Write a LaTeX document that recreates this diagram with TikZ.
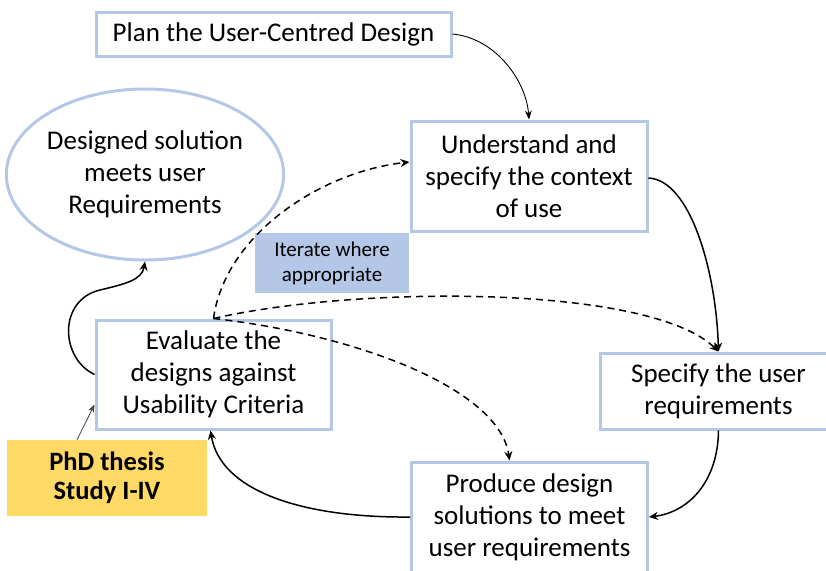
\documentclass[tikz,border=0pt]{standalone}
\usepackage{fontspec}
\setmainfont{Carlito}
\usetikzlibrary{arrows.meta,shapes.geometric}
\definecolor{boxblue}{RGB}{180,199,231}
\definecolor{notegold}{RGB}{255,217,102}
\tikzset{
  stagebox/.style={draw=boxblue, line width=3pt, fill=white, align=center,
    inner sep=0pt, font=\fontsize{27}{32}\selectfont},
  goal/.style={ellipse, draw=boxblue, line width=3pt, align=center,
    inner sep=0pt, font=\fontsize{27}{32}\selectfont},
  note/.style={fill=boxblue, align=center, inner sep=0pt,
    font=\fontsize{21}{25}\selectfont},
  thesis/.style={fill=notegold, align=center, inner sep=0pt,
    font=\fontsize{26.5}{29}\selectfont\bfseries},
  flow/.style={line width=1.5pt, -{Stealth[length=9pt,width=8pt]}},
  thinflow/.style={line width=0.9pt, -{Stealth[length=9pt,width=7pt]}},
  iterflow/.style={line width=1.5pt, dash pattern=on 7pt off 5pt,
    -{Stealth[length=9pt,width=8pt]}},
}
\begin{document}
\begin{tikzpicture}[x=1pt,y=-1pt]
\useasboundingbox (0,0) rectangle (826,570);
\clip (0,0) rectangle (826,570);

% stages of the cycle
\node[stagebox, minimum width=355pt, minimum height=44pt] (plan) at (273.5,34)
  {Plan the User-Centred Design};
\node[stagebox, minimum width=236pt, minimum height=110pt] (und) at (529,176)
  {Understand and\\specify the context\\of use};
\node[stagebox, minimum width=237pt, minimum height=76pt] (spec) at (718.5,391)
  {Specify the user\\requirements};
\node[stagebox, minimum width=236pt, minimum height=110pt] (prod) at (529.5,517)
  {Produce design\\solutions to meet\\user requirements};
\node[stagebox, minimum width=235pt, minimum height=109pt] (eval) at (213.5,374.5)
  {Evaluate the\\designs against\\Usability Criteria};
\node[goal, minimum width=273pt, minimum height=171pt] (goal) at (145,174.5)
  {Designed solution\\meets user\\Requirements};
\node[note, minimum width=154pt, minimum height=60pt] (iter) at (332,263)
  {Iterate where\\appropriate};
\node[thesis, minimum width=200pt, minimum height=76pt] (phd) at (107,478)
  {PhD thesis\\Study I-IV};

% main cycle
\draw[thinflow] (plan.east) .. controls (495,38) and (526,80) .. (und.north);
\draw[flow] ([yshift=-2pt]und.east) .. controls (690,180) and (716,270) .. (spec.north);
\draw[flow] (spec.south) .. controls (718,480) and (690,512) .. (prod.east);
\draw[flow] (prod.west) .. controls (300,518) and (220,490) .. ([xshift=-3pt]eval.south);
\draw[flow] (eval.west) .. controls (60,358) and (58,300) .. (100,290)
  .. controls (125,284) and (142,280) .. (goal.south);
\draw[line width=0.8pt, draw=black!75, -{Stealth[length=8pt,width=6pt]}]
  ([xshift=-30pt]phd.north) -- ([yshift=-30pt]eval.west);

% iteration paths
\draw[iterflow] (eval.north) .. controls (225,235) and (320,172) .. ([yshift=14pt]und.west);
\draw[iterflow] (eval.north) .. controls (360,285) and (650,285) .. (spec.north);
\draw[iterflow] (eval.north) .. controls (360,335) and (500,390) .. ([xshift=-20pt]prod.north);
\end{tikzpicture}
\end{document}
